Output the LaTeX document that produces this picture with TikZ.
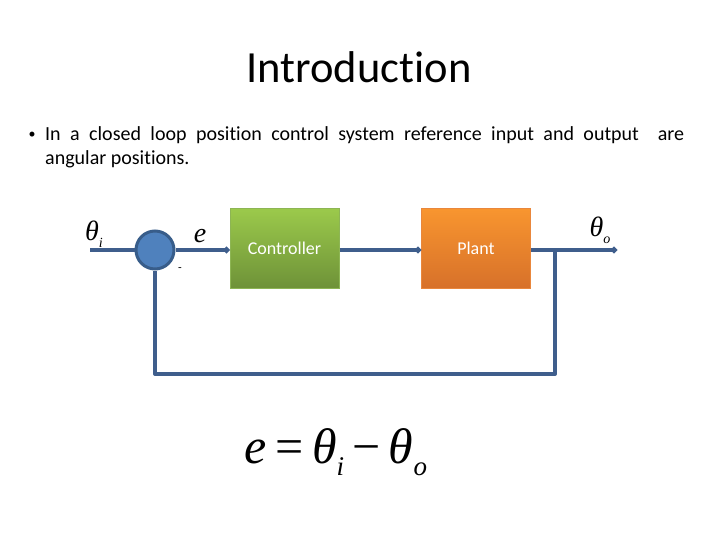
\documentclass[tikz,border=0pt]{standalone}
\usepackage{fontspec}
\setmainfont{Carlito}[Ligatures={NoCommon}]
\newfontfamily\tnr{Liberation Serif}
\usetikzlibrary{arrows.meta}
\definecolor{lineblue}{HTML}{3F5E8C}
\definecolor{sumfill}{HTML}{4F81BD}
\definecolor{sumdraw}{HTML}{385D8A}
\definecolor{gtop}{HTML}{9BC94B}
\definecolor{gbot}{HTML}{6E9238}
\definecolor{gdraw}{HTML}{8DB554}
\definecolor{otop}{HTML}{F8952F}
\definecolor{obot}{HTML}{D7712A}
\definecolor{odraw}{HTML}{E9873C}
\tikzset{
  wire/.style={draw=lineblue, line width=4pt, line join=round},
  dotend/.style={-{Circle[length=6pt,width=6pt]}},
  blockbox/.style={minimum width=109pt, minimum height=79pt, inner sep=0pt,
     text=white, font=\fontsize{18}{22}\selectfont},
  mathlbl/.style={font=\tnr\itshape\fontsize{28}{32}\selectfont},
}
\begin{document}
\begin{tikzpicture}[x=1pt,y=-1pt]
\useasboundingbox (0,0) rectangle (720,540);
% title
\node (title) at (359,67) {\fontsize{44.5}{50}\selectfont Introduction};
% bullet text
\node (bullet) at (32,135) {\fontsize{14}{18}\selectfont •};
\node[anchor=north west, inner sep=0pt, align=left, font=\fontsize{20}{24}\selectfont] (para) at (45,126)
  {\makebox[639pt][s]{In a closed loop position control system reference input and output\ \ are}\\
   angular positions.};
% blocks
\node[circle, fill=sumfill, draw=sumdraw, line width=3pt, minimum size=38pt, inner sep=0pt] (sum) at (155,250) {};
\node[blockbox, top color=gtop, bottom color=gbot, draw=gdraw, line width=1pt] (ctrl) at (284.5,248.5) {Controller};
\node[blockbox, top color=otop, bottom color=obot, draw=odraw, line width=1pt] (plant) at (476,248.5) {Plant};
% coordinates
\coordinate (in) at (90,250);
\coordinate (out) at (617,250);
\coordinate (br) at (555,250);
\coordinate (cr) at (555,374);
\coordinate (cl) at (155,374);
% wires
\draw[wire] (in) -- (sum.west);
\draw[wire, dotend] (sum.east) -- (ctrl.west |- sum.east);
\draw[wire, dotend] (ctrl.east |- sum.east) -- (plant.west |- sum.east);
\draw[wire, dotend] (plant.east |- sum.east) -- (out);
\draw[wire] (br) -- (cr) -- (cl) -- (sum.south);
% labels
\node[mathlbl] (thi) at (94,234) {θ\raisebox{-7pt}{\fontsize{14}{15}\selectfont i}};
\node[mathlbl] (elbl) at (200,236) {e};
\node (minus) at (180,270) {\fontsize{12}{14}\selectfont -};
\node[mathlbl] (tho) at (600,230) {θ\raisebox{-7pt}{\fontsize{14}{15}\selectfont o}};
% equation
\node (eq) at (336,452) {\tnr\fontsize{50}{56}\selectfont\itshape e\,\upshape=\,\itshape θ\raisebox{-12pt}{\fontsize{27}{30}\selectfont i}\,\upshape−\,\itshape θ\raisebox{-12pt}{\fontsize{27}{30}\selectfont o}};
\end{tikzpicture}
\end{document}
